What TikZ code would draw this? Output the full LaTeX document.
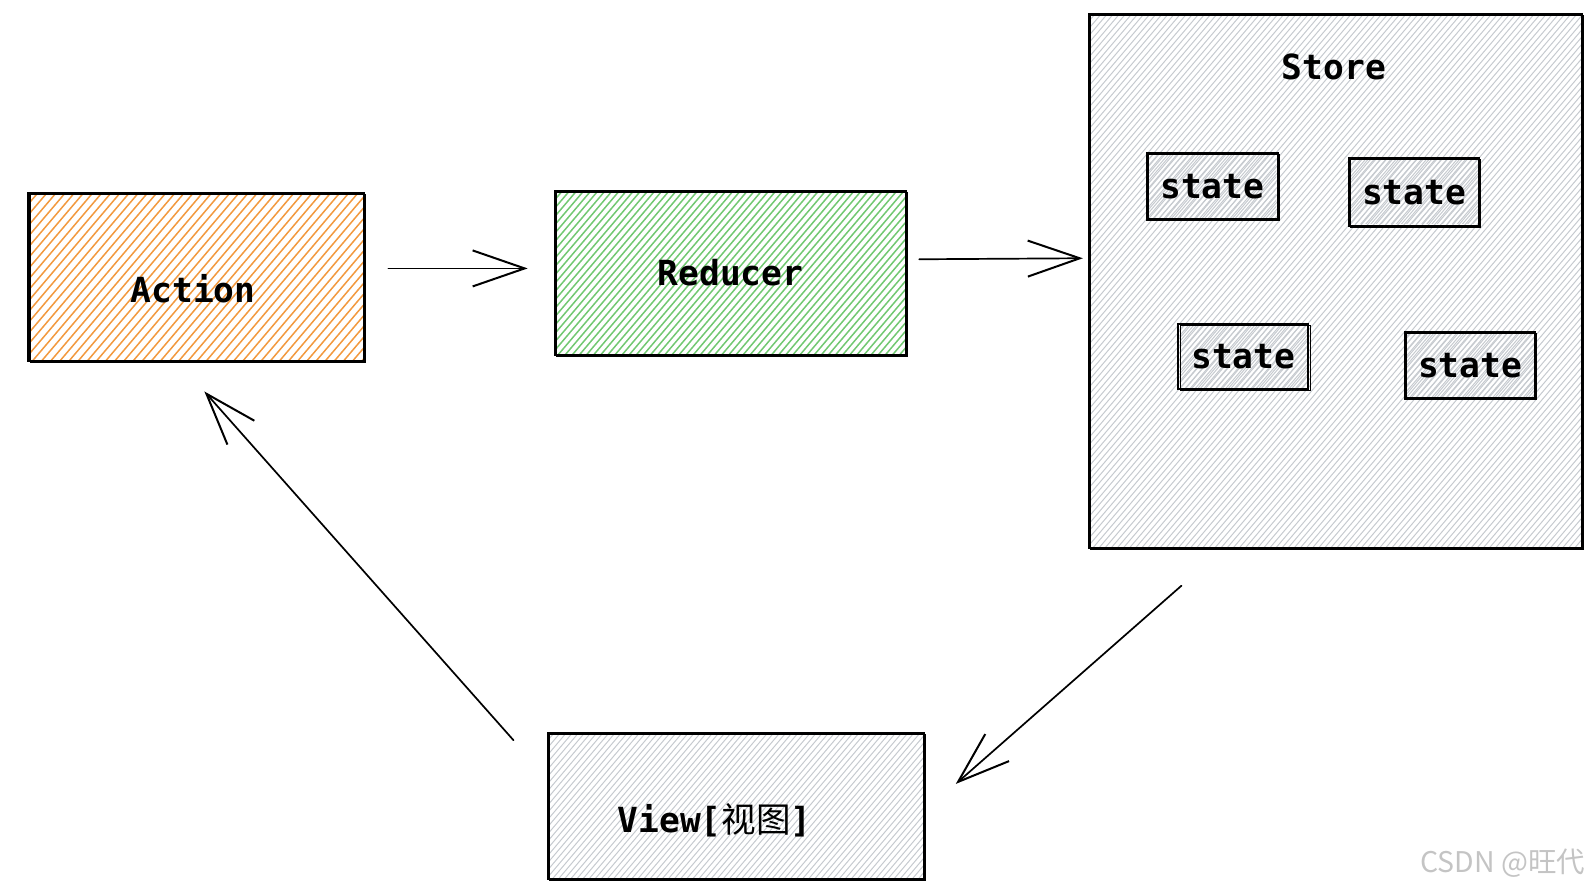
\documentclass[tikz,border=0pt]{standalone}
\usepackage{fontspec}
\setmonofont{DejaVu Sans Mono}
\newfontfamily\cjk{Noto Sans CJK SC}
\usetikzlibrary{arrows.meta}
\definecolor{orangeh}{HTML}{F2993F}
\definecolor{greenh}{HTML}{72C872}
\definecolor{grayh}{HTML}{C6CACF}
\definecolor{wm}{HTML}{C4C4C4}
\begin{document}
\begin{tikzpicture}[x=0.5pt,y=-0.5pt,
  box/.style={draw=black, line width=1.1pt, inner sep=0pt,
    postaction={draw, line width=0.5pt, transform canvas={shift={(0.9pt,-0.7pt)}}}},
  lbl/.style={font=\ttfamily\bfseries\fontsize{17pt}{20pt}\selectfont, text=black, inner sep=0pt},
  conn/.style={line width=0.85pt, line cap=round, -{Straight Barb[length=26pt,width=18pt,line width=1pt]}},
  hatchc/.style={line width=0.75pt},
  hatchg/.style={line width=0.5pt, draw=grayh}]
\useasboundingbox (0,0) rectangle (1594,892);
\begin{scope}[scale=1.0166, transform shape]
% hatching
\begin{scope}
  \clip (28,190) rectangle (358,355);
  \foreach \s in {-112,-103,...,358} \draw[hatchc, orangeh] (\s,355) -- ++(140,-165);
\end{scope}
\begin{scope}
  \clip (546,188) rectangle (891,349);
  \foreach \s in {409,416,...,891} \draw[hatchc, greenh] (\s,349) -- ++(137,-161);
\end{scope}
\begin{scope}
  \clip (1071,14) rectangle (1556,539);
  \foreach \s in {625,631,...,1556} \draw[hatchg] (\s,539) -- ++(446,-525);
\end{scope}
\begin{scope}
  \clip (539,721) rectangle (909,865);
  \foreach \s in {417,423,...,909} \draw[hatchg] (\s,865) -- ++(122,-144);
\end{scope}
\foreach \cx/\cy in {1192.5/183.5, 1391/189, 1223/351, 1446/359.5}{
  \begin{scope}
    \clip (\cx-63,\cy-31) rectangle (\cx+63,\cy+31);
    \foreach \s in {-118,-113,...,64} \draw[hatchg] (\cx+\s,\cy+32) -- ++(55,-64);
  \end{scope}
}

% boxes
\node[box, minimum width=165pt, minimum height=82.5pt] (action) at (193,272.5) {};
\node[lbl] (actiontxt) at (190,284) {Action};
\node[box, lbl, draw, minimum width=172.5pt, minimum height=80.5pt] (reducer) at (718.5,268.5) {Reducer};
\node[box, minimum width=242.5pt, minimum height=262.5pt] (store) at (1313.5,276.5) {};
\node[lbl] (storetxt) at (1312,66) {Store};
\node[box, lbl, draw, minimum width=64.5pt, minimum height=32.5pt] (s1) at (1192.5,183.5) {state};
\node[box, lbl, draw, minimum width=64pt, minimum height=33pt] (s2) at (1391,189) {state};
\node[box, lbl, draw, minimum width=64pt, minimum height=32pt] (s3) at (1223,351) {state};
\node[box, lbl, draw, minimum width=64pt, minimum height=32.5pt] (s4) at (1446,359.5) {state};
\node[box, minimum width=185pt, minimum height=72pt] (view) at (724,793) {};
\node[lbl] (viewtxt) at (703,807) {View[{\cjk\mdseries 视图}]};

% connectors
\coordinate (a1s) at (382,264); \coordinate (a1e) at (519,264);
\coordinate (a2s) at (904,255); \coordinate (a2e) at (1065,254);
\coordinate (a3s) at (1162,576); \coordinate (a3e) at (940,771);
\coordinate (a4s) at (505,728); \coordinate (a4e) at (201,385);
\draw[conn] (a1s) -- (a1e);
\draw[conn] (a2s) -- (a2e);
\draw[conn] (a3s) -- (a3e);
\draw[conn] (a4s) -- (a4e);

% watermark
\node[font=\cjk\fontsize{14pt}{16pt}\selectfont, text=wm, inner sep=0pt] (wmk) at (1478,849) {CSDN @旺代};
\end{scope}
\end{tikzpicture}
\end{document}
